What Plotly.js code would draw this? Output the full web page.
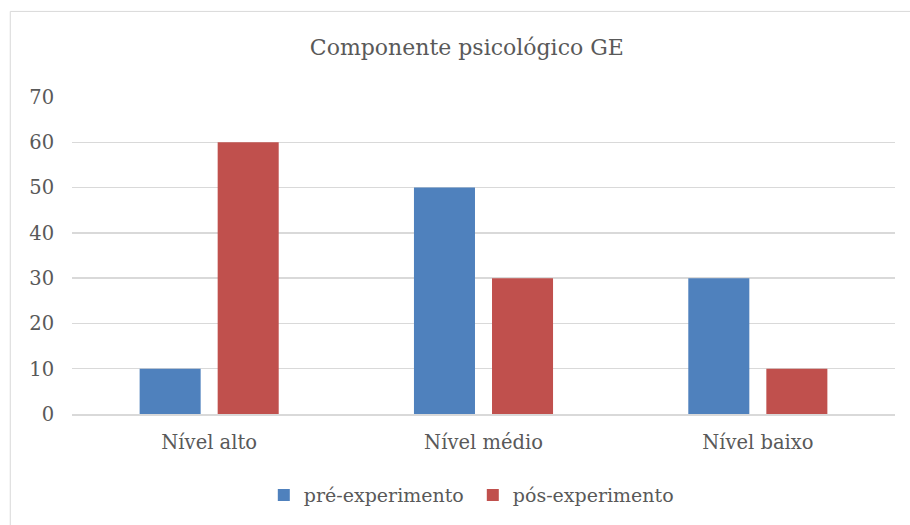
<!DOCTYPE html>
<html>
<head>
<meta charset="utf-8">
<script src="https://cdn.plot.ly/plotly-3.0.1.min.js"></script>
<style>html,body{margin:0;padding:0;background:#fff;}#chart{width:910px;height:525px;}</style>
</head>
<body>
<div id="chart"></div>
<script>
const categories = ["Nível alto", "Nível médio", "Nível baixo"];
const preValues = [10, 50, 30];
const posValues = [60, 30, 10];
const seriesNames = ["pré-experimento", "pós-experimento"];
const yTicks = [0, 10, 20, 30, 40, 50, 60, 70];

const font = "DejaVu Serif";
const textColor = "#595959";

const data = [
  {type: "bar", x: categories, y: preValues, name: seriesNames[0], marker: {color: "#4F81BD"}, hoverinfo: "none"},
  {type: "bar", x: categories, y: posValues, name: seriesNames[1], marker: {color: "#C0504D"}, hoverinfo: "none"}
];

const layout = {
  width: 910, height: 525,
  margin: {l: 72, r: 15, t: 97, b: 110},
  paper_bgcolor: "#ffffff", plot_bgcolor: "#ffffff",
  font: {family: font, color: textColor, size: 19.5},
  title: {text: "Componente psicológico GE", font: {family: font, size: 22, color: textColor}, x: 0.513, xanchor: "center", y: 0.909, yanchor: "middle"},
  barmode: "group",
  bargap: 0.431,
  bargroupgap: 0.218,
  xaxis: {showgrid: false, showline: true, linecolor: "#D9D9D9", linewidth: 1.5, tickfont: {size: 19.5, family: font, color: textColor}, ticks: "outside", ticklen: 10, tickcolor: "rgba(0,0,0,0)"},
  yaxis: {range: [0, 70], tickvals: yTicks, gridcolor: "#D9D9D9", gridwidth: 1.5, zeroline: false, showline: false, tickfont: {size: 19.5, family: font, color: textColor}, ticks: "outside", ticklen: 13, tickcolor: "rgba(0,0,0,0)"},
  legend: {orientation: "h", x: 0.487, xanchor: "center", y: -0.252, yanchor: "middle", font: {size: 19, family: font, color: textColor}, itemwidth: 30, entrywidth: 164},
  showlegend: true,
  shapes: [{type: "rect", xref: "paper", yref: "paper", x0: -0.075, x1: 1.03, y0: -0.37, y1: 1.27, line: {color: "#D9D9D9", width: 1}, layer: "below"}]
};

Plotly.newPlot("chart", data, layout, {staticPlot: true});
</script>
</body>
</html>
